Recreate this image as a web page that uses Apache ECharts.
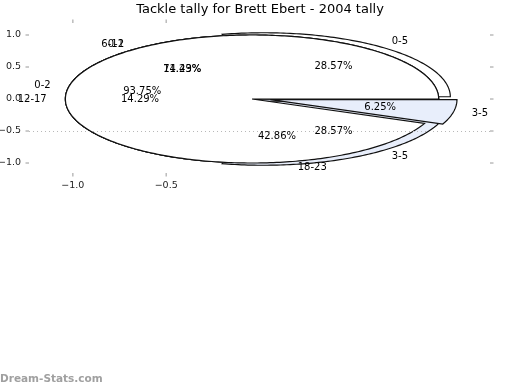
<!DOCTYPE html>
<html><head><meta charset="utf-8">
<script src="https://cdn.jsdelivr.net/npm/echarts@6/dist/echarts.min.js"></script>
<style>html,body{margin:0;padding:0;background:#fff}#c{width:520px;height:390px}</style>
</head><body><div id="c"></div>
<script>
// ---- data ----
const chartTitle = 'Tackle tally for Brett Ebert - 2004 tally';
const watermark = 'Dream-Stats.com';
const pieALabels = ['0-5', '6-11', '12-17', '18-23'];
const pieAValues = [2, 1, 1, 3];
const pieAExplode = [0.1, 0, 0, 0];
const pieCLabels = ['0-2', '3-5'];
const pieCValues = [5, 2];
const pieCExplode = [0, 0.1];
const pieBLabels = ['0-2', '3-5'];
const pieBValues = [15, 1];
const pieBExplode = [0, 0.1];
const yTicks = [-1, -0.5, 0, 0.5, 1];
const xTicks = [-1, -0.5];
const gridLineValue = -0.5;

// ---- layout / style ----
const CX = -0.04, CY = 0, R = 1;
const EXPLODE_Y = 0.45;
const WHITE = '#ffffff', BLUE = '#e8eefb';
const FONT = 'DejaVu Sans';
const TICK_COLOR = '#aaaaaa';

function slices(values, explode) {
  const total = values.reduce((a, b) => a + b, 0);
  let acc = 0;
  return values.map((v, i) => {
    const a0 = acc / total * 360; acc += v;
    const a1 = acc / total * 360;
    const mid = (a0 + a1) / 2 * Math.PI / 180;
    return { a0, a1, mid, pct: v / total * 100,
      ox: CX + explode[i] * Math.cos(mid), oy: CY + EXPLODE_Y * explode[i] * Math.sin(mid) };
  });
}

function wedgeSeries(values, explode, colors, z) {
  const sl = slices(values, explode);
  return {
    type: 'custom', coordinateSystem: 'cartesian2d', z: z, silent: true, clip: false,
    data: values.map((v, i) => [i, v]),
    renderItem(params, api) {
      const s = sl[params.dataIndex];
      const pts = [api.coord([s.ox, s.oy])];
      const n = Math.max(8, Math.ceil(s.a1 - s.a0));
      for (let k = 0; k <= n; k++) {
        const t = (s.a0 + (s.a1 - s.a0) * k / n) * Math.PI / 180;
        pts.push(api.coord([s.ox + R * Math.cos(t), s.oy + R * Math.sin(t)]));
      }
      return { type: 'polygon', shape: { points: pts },
        style: { fill: colors[params.dataIndex % colors.length], stroke: '#111', lineWidth: 1.2 } };
    }
  };
}

function textSeries(labels, values, explode, z) {
  const sl = slices(values, explode);
  return {
    type: 'custom', coordinateSystem: 'cartesian2d', z: z, silent: true, clip: false,
    data: values.map((v, i) => [i, v]),
    renderItem(params, api) {
      const i = params.dataIndex, s = sl[i];
      const lx = s.ox + 1.1 * R * Math.cos(s.mid), ly = s.oy + 1.1 * R * Math.sin(s.mid);
      const px = s.ox + 0.6 * R * Math.cos(s.mid), py = s.oy + 0.6 * R * Math.sin(s.mid);
      const lp = api.coord([lx, ly]), pp = api.coord([px, py]);
      return { type: 'group', children: [
        { type: 'text', x: lp[0], y: lp[1], style: { text: labels[i], fill: '#000', font: '10px ' + FONT,
            align: lx - CX > 0 ? 'left' : 'right', verticalAlign: 'middle' } },
        { type: 'text', x: pp[0], y: pp[1], style: { text: s.pct.toFixed(2) + '%', fill: '#000', font: '10px ' + FONT,
            align: 'center', verticalAlign: 'middle' } }
      ] };
    }
  };
}

// tick marks on all four sides, placed through the axes
function tickSeries(xVals, yVals) {
  const items = [];
  xVals.forEach(v => { items.push([v, 'b']); items.push([v, 't']); });
  yVals.forEach(v => { items.push([v, 'l']); items.push([v, 'r']); });
  return {
    type: 'custom', coordinateSystem: 'cartesian2d', z: 1, silent: true, clip: false,
    data: items.map((it, i) => [i, 0]),
    renderItem(params, api) {
      const [v, side] = items[params.dataIndex];
      const rect = params.coordSys;
      let x1, y1, x2, y2;
      if (side === 'b' || side === 't') {
        const p = api.coord([v, 0])[0];
        const y = side === 'b' ? rect.y + rect.height : rect.y;
        x1 = x2 = p; y1 = y; y2 = side === 'b' ? y + 3.5 : y - 3.5;
      } else {
        const p = api.coord([0, v])[1];
        const x = side === 'l' ? rect.x : rect.x + rect.width;
        y1 = y2 = p; x1 = x; x2 = side === 'l' ? x - 3.5 : x + 3.5;
      }
      return { type: 'line', shape: { x1, y1, x2, y2 }, style: { stroke: TICK_COLOR, lineWidth: 1.2 } };
    }
  };
}

const fmt = v => v.toFixed(1).replace('-', '\u2212');

const chart = echarts.init(document.getElementById('c'), null, { renderer: 'canvas' });
chart.setOption({
  animation: false,
  backgroundColor: '#fff',
  textStyle: { fontFamily: FONT },
  title: { text: chartTitle, left: 'center', top: 3, padding: 0,
    textStyle: { fontSize: 13, fontWeight: 'normal', color: '#000', fontFamily: FONT } },
  grid: { left: 29, right: 30, top: 23, bottom: 217, containLabel: false, outerBoundsMode: 'none' },
  xAxis: { type: 'value', position: 'bottom', min: -1.235, max: 1.235,
    axisLine: { show: false }, splitLine: { show: false }, axisTick: { show: false },
    axisLabel: { show: true, customValues: xTicks, formatter: fmt, color: '#222', fontSize: 9.5, margin: 8 } },
  yAxis: { type: 'value', position: 'left', min: -1.156, max: 1.1875,
    axisLine: { show: false }, splitLine: { show: false }, axisTick: { show: false },
    axisLabel: { show: true, customValues: yTicks, formatter: fmt, color: '#222', fontSize: 9.5, margin: 8 } },
  series: [
    tickSeries(xTicks, yTicks),
    wedgeSeries(pieAValues, pieAExplode, [WHITE, BLUE], 2),
    wedgeSeries(pieCValues, pieCExplode, [WHITE, BLUE], 3),
    wedgeSeries(pieBValues, pieBExplode, [WHITE, BLUE], 4),
    { type: 'line', data: [], z: 5, silent: true,
      markLine: { silent: true, symbol: 'none', label: { show: false },
        lineStyle: { color: '#b8b8b8', type: [1, 3], width: 1 },
        data: [{ yAxis: gridLineValue }] } },
    textSeries(pieALabels, pieAValues, pieAExplode, 10),
    textSeries(pieCLabels, pieCValues, pieCExplode, 10),
    textSeries(pieBLabels, pieBValues, pieBExplode, 10)
  ],
  graphic: [{ type: 'text', left: 0, top: 374, silent: true,
    style: { text: watermark, fill: '#a0a0a0', font: 'bold 10.5px ' + FONT } }]
});
</script></body></html>
